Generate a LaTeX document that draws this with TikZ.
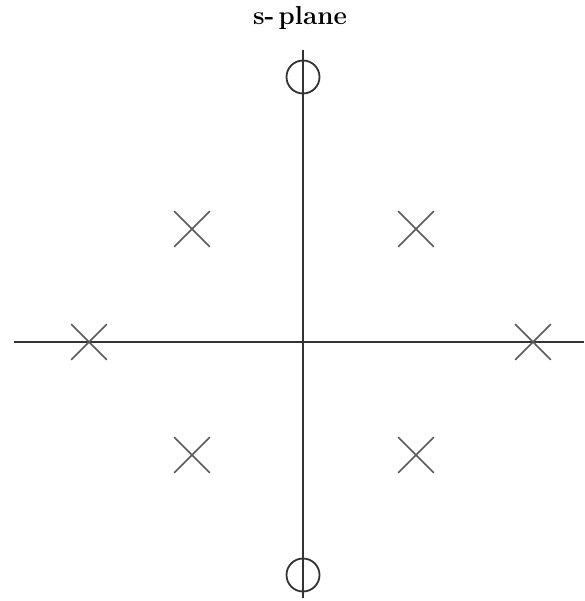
\documentclass[tikz,border=0pt]{standalone}
\usepackage{tikz}
\usetikzlibrary{shapes.misc, positioning}
\definecolor{axisgray}{gray}{0.2}
\definecolor{markgray}{gray}{0.35}
\tikzset{
  axis/.style={draw=axisgray, line width=2pt},
  pole/.style={cross out, draw=markgray, line width=1.7pt,
               minimum size=34pt, inner sep=0pt},
  zero/.style={circle, draw=axisgray, line width=1.8pt,
               minimum size=33pt, inner sep=0pt},
  title/.style={font=\fontsize{26}{30}\selectfont\bfseries},
}
\begin{document}
\begin{tikzpicture}[x=1pt, y=-1pt]
  \useasboundingbox (0,0) rectangle (584,601);
  \node[title] (ttl) at (300,18) {s-\,plane};

  % axes
  \coordinate (ytop) at (303,50);
  \coordinate (ybot) at (303,598);
  \coordinate (xlft) at (14,342);
  \coordinate (xrgt) at (584,342);
  \draw[axis] (xlft) -- (xrgt);
  \draw[axis] (ytop) -- (ybot);

  % zeros
  \node[zero] (z1) at (303,77) {};
  \node[zero] (z2) at (303,575) {};

  % poles
  \node[pole] (p1) at (89,342) {};
  \node[pole] (p2) at (533,342) {};
  \node[pole] (p3) at (192,229) {};
  \node[pole] (p4) at (416,229) {};
  \node[pole] (p5) at (192,455) {};
  \node[pole] (p6) at (416,455) {};
\end{tikzpicture}
\end{document}
